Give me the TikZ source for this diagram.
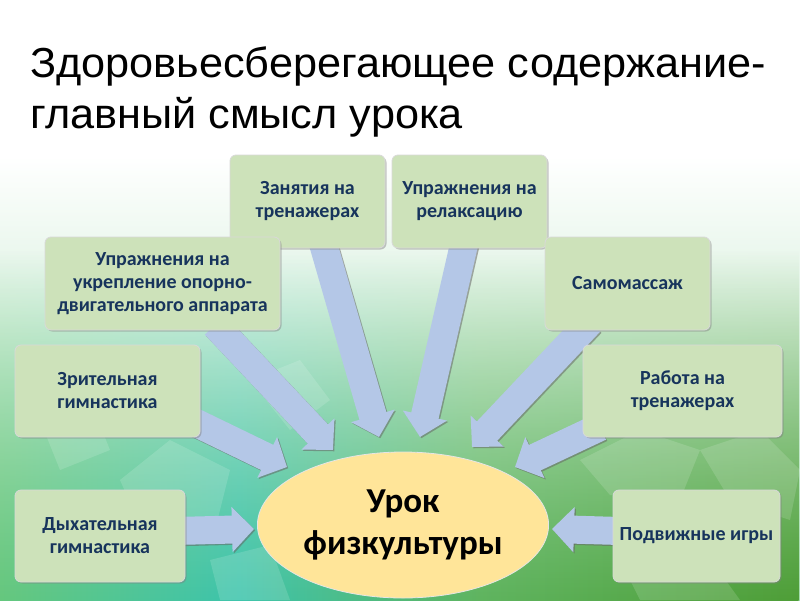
\documentclass[tikz,border=0pt]{standalone}
\usepackage{fontspec}
\setmainfont{Carlito}
\newfontfamily\titlefont{Liberation Sans}
\usetikzlibrary{arrows.meta,shadows,fadings,calc,shapes.geometric}
\definecolor{boxfill}{RGB}{205,226,186}
\definecolor{boxtext}{RGB}{23,52,92}
\definecolor{arrowfill}{RGB}{180,199,231}
\definecolor{ellfill}{RGB}{255,229,153}
\definecolor{bggreen}{RGB}{105,195,115}
\definecolor{bgpale}{RGB}{200,234,208}
\definecolor{hlgreen}{RGB}{115,200,110}
\definecolor{hteal}{RGB}{60,196,172}
\definecolor{hmid}{RGB}{95,180,95}
\definecolor{hdeep}{RGB}{78,158,55}
\definecolor{hright}{RGB}{140,205,155}
\pgfdeclareverticalshading{bgshade}{100bp}{color(0bp)=(bggreen); color(40bp)=(bgpale); color(62bp)=(white); color(100bp)=(white)}
\pgfdeclarehorizontalshading{hshade}{100bp}{color(0bp)=(hlgreen); color(20bp)=(hlgreen); color(40bp)=(hteal); color(55bp)=(hmid); color(75bp)=(hdeep); color(90bp)=(hmid); color(100bp)=(hright)}
\tikzfading[name=upfade, top color=transparent!100, bottom color=transparent!0]
\tikzset{
  box/.style={draw=white!85!black, line width=0.8pt, fill=boxfill, rounded corners=6pt,
    align=center, text=boxtext, font=\fontsize{20}{23}\selectfont\bfseries,
    drop shadow={shadow xshift=1.5pt, shadow yshift=-1.5pt, opacity=0.45}},
  arr/.style={line width=28pt, arrowfill, -{Triangle[length=22pt 0, width=44pt 0]}},
  arrsh/.style={line width=28pt, black!60, opacity=0.55, -{Triangle[length=22pt 0, width=44pt 0]}, transform canvas={xshift=1.3pt, yshift=-1.3pt}},
  facet/.style={fill=white, opacity=0.14},
}
\begin{document}
\begin{tikzpicture}[x=1pt,y=-1pt]
\useasboundingbox (0,0) rectangle (800,600);
% background
\fill[white] (0,0) rectangle (800,600);
\shade[shading=bgshade] (0,0) rectangle (800,600);
\shade[shading=hshade, path fading=upfade] (0,250) rectangle (800,600);
% facets
\fill[facet] (120,480) -- (170,440) -- (230,470) -- (215,530) -- (140,525) -- cycle;
\fill[facet] (40,420) -- (90,400) -- (110,450) -- (60,470) -- cycle;
\fill[facet] (580,460) -- (640,430) -- (700,450) -- (680,500) -- (610,495) -- cycle;
\fill[facet] (700,450) -- (760,430) -- (800,470) -- (790,520) -- (730,500) -- cycle;
\fill[facet] (620,560) -- (700,545) -- (740,600) -- (640,600) -- cycle;
\fill[facet] (210,560) -- (270,545) -- (290,600) -- (220,600) -- cycle;
\fill[facet] (250,380) -- (300,360) -- (330,400) -- (290,430) -- cycle;
% title
\node[anchor=base west, inner sep=0, font=\titlefont\fontsize{42}{51}\selectfont] (t1) at (30,77) {\scalebox{1.03}[1]{Здоровьесберегающее содержание-}};
\node[anchor=base west, inner sep=0, font=\titlefont\fontsize{42}{51}\selectfont] (t2) at (30,128) {\scalebox{1.03}[1]{главный смысл урока}};
% named coordinates
\coordinate (s1) at (322,240); \coordinate (e1) at (379,437);
\coordinate (s2) at (465,240); \coordinate (e2) at (420,437);
\coordinate (s3) at (215,325); \coordinate (e3) at (333,450);
\coordinate (s4) at (590,322); \coordinate (e4) at (472,447);
\coordinate (s5) at (190,420); \coordinate (e5) at (287,467);
\coordinate (s6) at (600,427); \coordinate (e6) at (515,467);
\coordinate (s7) at (175,531); \coordinate (e7) at (254,529);
\coordinate (s8) at (620,531); \coordinate (e8) at (552,529);
% arrows
\foreach \i in {1,...,8} {\draw[arrsh] (s\i) -- (e\i);}
\foreach \i in {1,...,8} {\draw[arr] (s\i) -- (e\i);}
% boxes
\node[box, minimum width=155pt, minimum height=93pt] (zan) at (307.5,201.5) {Занятия на\\тренажерах};
\node[box, minimum width=155pt, minimum height=93pt] (rel) at (469.5,201.5) {Упражнения на\\релаксацию};
\node[box, minimum width=235pt, minimum height=93pt] (ukr) at (162.5,283.5) {Упражнения на\\укрепление опорно-\\двигательного аппарата};
\node[box, minimum width=165pt, minimum height=93pt] (sam) at (627.5,283.5) {Самомассаж};
\node[box, minimum width=185pt, minimum height=92pt] (zri) at (107.5,391) {Зрительная\\гимнастика};
\node[box, minimum width=199pt, minimum height=92pt] (rab) at (682.5,391) {Работа на\\тренажерах};
\node[box, minimum width=170pt, minimum height=92pt] (dyh) at (100,536) {Дыхательная\\гимнастика};
\node[box, minimum width=167pt, minimum height=92pt] (pod) at (696.5,536) {Подвижные игры};
% centre
\node[ellipse, draw=white!90!black, line width=0.8pt, fill=ellfill, minimum width=284pt, minimum height=146pt,
  align=center, font=\fontsize{35}{42}\selectfont\bfseries] (urok) at (403,525) {Урок\\физкультуры};
\end{tikzpicture}
\end{document}
